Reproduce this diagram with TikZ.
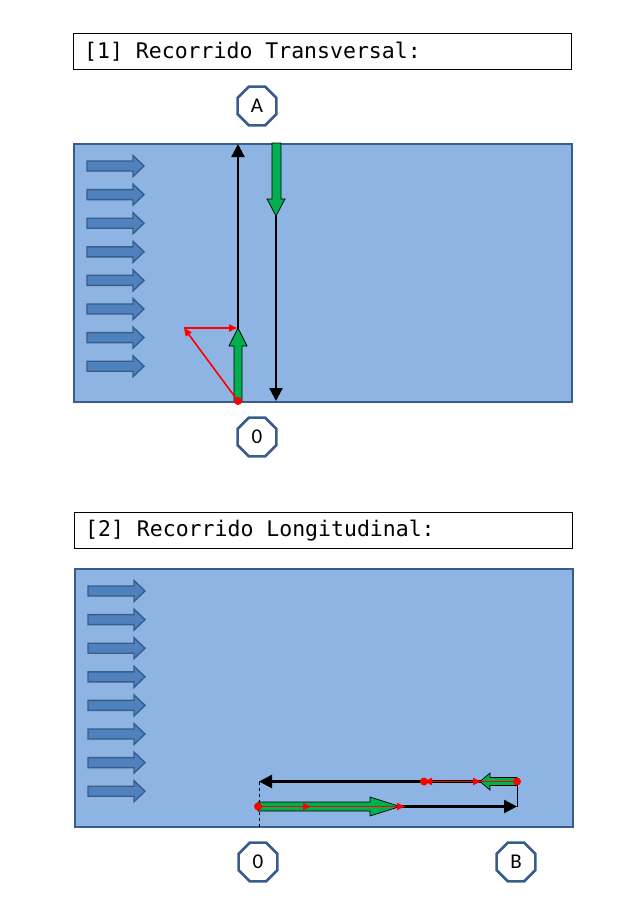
\documentclass[tikz,border=0pt]{standalone}
\usepackage{fontspec}
\setmonofont{DejaVu Sans Mono}
\setsansfont{Carlito}
\usetikzlibrary{arrows.meta,shapes.geometric}
\definecolor{agua}{HTML}{8EB4E3}
\definecolor{borde}{HTML}{385D8A}
\definecolor{corriente}{HTML}{4F81BD}
\definecolor{verde}{HTML}{00B050}

\begin{document}
\begin{tikzpicture}[
  x=1pt, y=-1pt,
  titulo/.style={draw, anchor=north west, minimum width=498,
       minimum height=36, text width=476, align=flush left, inner xsep=11,
       font=\ttfamily\fontsize{21.5}{26}\selectfont},
  rio/.style={draw=borde, fill=agua, line width=2, anchor=north west,
       minimum width=498, minimum height=258, inner sep=0},
  punto/.style={regular polygon, regular polygon sides=8, minimum size=42,
       inner sep=0, draw=borde, line width=2.6, fill=white,
       font=\sffamily\fontsize{21}{24}\selectfont},
  flujo/.style={draw=borde, fill=corriente, line width=1.4},
  bloque/.style={draw=black, fill=verde, line width=0.7},
  negra/.style={-{Triangle[length=13pt, width=13pt]}, line width=2.4},
  roja/.style={red, -{Triangle[length=8pt, width=7pt]}, line width=1.6},
]
\useasboundingbox (0,0) rectangle (640,906);

% [1] recorrido transversal
\node[titulo] (t1) at (73,33) {[1] Recorrido Transversal:};
\node[rio] (rio1) at (73,143) {};
\foreach \y in {166,194.6,223.2,251.8,280.4,309,337.6,366.2}
  \draw[flujo] (87,\y-5) -- (133,\y-5) -- (133,\y-10.5) -- (144,\y)
    -- (133,\y+10.5) -- (133,\y+5) -- (87,\y+5) -- cycle;
\node[punto] (A) at (257,106) {A};
\node[punto] (O1) at (257,437) {0};
\coordinate (o1) at (238,401);
\coordinate (a1) at (238,144);
\coordinate (a2) at (276,143);
\coordinate (o2) at (276,401);
\coordinate (c1) at (184,328);
\coordinate (d1) at (237,328);
\draw[negra] (o1) -- (a1);
\draw[negra] (a2) -- (o2);
\draw[bloque] (234,401) -- (234,346) -- (229,346) -- (238,328)
  -- (247,346) -- (242,346) -- (242,401) -- cycle;
\draw[bloque] (272,143) -- (272,199) -- (267,199) -- (276,216)
  -- (285,199) -- (281,199) -- (281,143) -- cycle;
\draw[roja] (o1) -- (c1);
\draw[roja] (c1) -- (d1);
\fill[red] (o1) circle (4pt);

% [2] recorrido longitudinal
\node[titulo] (t2) at (74,512) {[2] Recorrido Longitudinal:};
\node[rio] (rio2) at (74,568) {};
\foreach \y in {591,619.6,648.2,676.8,705.4,734,762.6,791.2}
  \draw[flujo] (88,\y-5) -- (134,\y-5) -- (134,\y-10.5) -- (145,\y)
    -- (134,\y+10.5) -- (134,\y+5) -- (88,\y+5) -- cycle;
\node[punto] (O2) at (258,862) {0};
\node[punto] (B) at (516,862) {B};
\coordinate (p0) at (258,806.5);
\coordinate (pb) at (517,806.5);
\coordinate (qb) at (517,781.5);
\coordinate (q0) at (259,781.5);
\coordinate (r1) at (424,781.5);
\coordinate (r2) at (481,781.5);
\coordinate (s1) at (311,806.5);
\coordinate (s2) at (405,806.5);
\draw[dashed, line width=0.9] (q0) -- (q0 |- rio2.south);
\draw[line width=0.9] (qb) -- (pb);
\draw[negra] (p0) -- (pb);
\draw[negra] (qb) -- (q0);
\draw[bloque] (258,802) -- (370,802) -- (370,797) -- (400,806.5)
  -- (370,816) -- (370,811) -- (258,811) -- cycle;
\draw[bloque] (517,777.5) -- (490,777.5) -- (490,773) -- (480,781.5)
  -- (490,790) -- (490,785.5) -- (517,785.5) -- cycle;
\draw[roja] (p0) -- (s1);
\draw[roja] (s1) -- (s2);
\draw[roja] (qb) -- (r1);
\draw[roja] (r1) -- (r2);
\fill[red] (p0) circle (4pt);
\fill[red] (qb) circle (4pt);
\fill[red] (r1) circle (4pt);
\end{tikzpicture}
\end{document}
